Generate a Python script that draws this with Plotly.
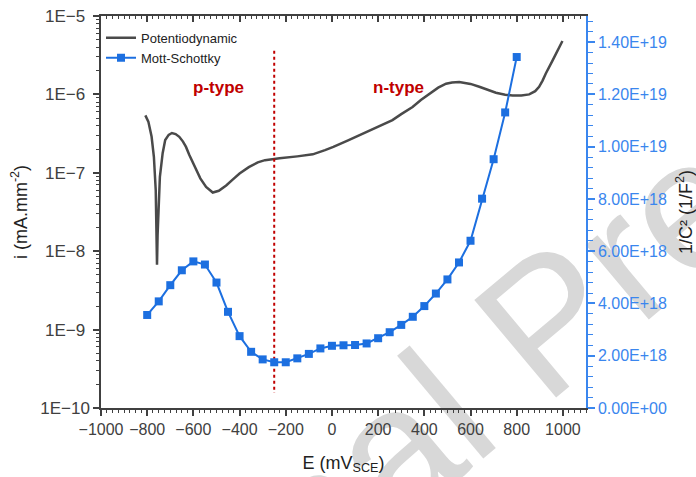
import plotly.graph_objects as go

# ---------------- data ----------------
# Potentiodynamic polarisation curve (E in mV_SCE, i in mA/mm^2)
pd_E = [-808, -795, -781, -771, -763, -759, -757.5, -755, -752, -745, -733, -722,
        -707, -693, -677, -661, -645, -632, -618, -600, -585, -570, -545, -516,
        -490, -458, -430, -400, -360, -321, -290, -248, -227, -150, -83, -30, 6,
        70, 132, 200, 262, 300, 349, 385, 421, 460, 494, 520, 551, 600, 638, 675,
        710, 750, 782, 820, 854, 880, 897, 912, 926, 955, 980, 998]
pd_i = [5.4e-7, 4.5e-7, 2.9e-7, 1.6e-7, 6.0e-8, 1.9e-8, 6.7e-9, 1.6e-8, 3.0e-8,
        8.9e-8, 1.78e-7, 2.62e-7, 3.05e-7, 3.22e-7, 3.12e-7, 2.88e-7, 2.5e-7,
        2.14e-7, 1.7e-7, 1.3e-7, 1.05e-7, 8.5e-8, 6.6e-8, 5.6e-8, 5.9e-8, 6.9e-8,
        8.2e-8, 9.8e-8, 1.18e-7, 1.36e-7, 1.45e-7, 1.52e-7, 1.53e-7, 1.62e-7,
        1.72e-7, 1.95e-7, 2.14e-7, 2.6e-7, 3.16e-7, 3.85e-7, 4.7e-7, 5.6e-7,
        6.9e-7, 8.5e-7, 1.02e-6, 1.22e-6, 1.37e-6, 1.42e-6, 1.44e-6, 1.36e-6,
        1.25e-6, 1.14e-6, 1.05e-6, 0.99e-6, 0.97e-6, 0.97e-6, 1.0e-6, 1.1e-6,
        1.25e-6, 1.5e-6, 1.85e-6, 2.7e-6, 3.7e-6, 4.8e-6]

# Mott-Schottky (E in mV_SCE, 1/C^2 in 1/F^2)
ms_E = [-800, -750, -700, -650, -600, -550, -500, -450, -400, -350, -300, -250,
        -200, -150, -100, -50, 0, 50, 100, 150, 200, 250, 300, 350, 400, 450,
        500, 550, 600, 650, 700, 750, 800]
ms_val = [3.56e18, 4.08e18, 4.70e18, 5.27e18, 5.61e18, 5.49e18, 4.80e18, 3.68e18,
          2.75e18, 2.15e18, 1.86e18, 1.75e18, 1.75e18, 1.90e18, 2.07e18, 2.28e18,
          2.38e18, 2.40e18, 2.41e18, 2.47e18, 2.67e18, 2.90e18, 3.18e18, 3.49e18,
          3.90e18, 4.38e18, 4.92e18, 5.57e18, 6.40e18, 8.01e18, 9.52e18,
          1.131e19, 1.343e19]

# flat-band / transition marker
trans_E = [-250, -250]
trans_i = [3.6e-6, 1.55e-10]

# tick labels
left_tickvals = [1e-10, 1e-9, 1e-8, 1e-7, 1e-6, 1e-5]
left_ticktext = ["1E\u221210", "1E\u22129\u2008", "1E\u22128\u2008", "1E\u22127\u2008",
                 "1E\u22126\u2008", "1E\u22125\u2008"]
right_tickvals = [0, 2e18, 4e18, 6e18, 8e18, 1e19, 1.2e19, 1.4e19]
right_ticktext = ["0.00E+00", "2.00E+18", "4.00E+18", "6.00E+18", "8.00E+18",
                  "1.00E+19", "1.20E+19", "1.40E+19"]
left_minor = [k * 10.0 ** n for n in range(-10, -5) for k in range(2, 10)]

# ---------------- styles ----------------
FONT = "Arial, 'Liberation Sans', sans-serif"
DARK = "#404040"
BLUE_LINE = "#1c6fe0"
BLUE_TXT = "#3a86ee"
RED = "#c00000"

fig = go.Figure()

fig.add_trace(go.Scatter(x=pd_E, y=pd_i, mode="lines", name="Potentiodynamic",
                         line=dict(color="#4a4a4a", width=2.5),
                         xaxis="x", yaxis="y"))
fig.add_trace(go.Scatter(x=ms_E, y=ms_val, mode="lines+markers", name="Mott-Schottky",
                         line=dict(color=BLUE_LINE, width=2),
                         marker=dict(symbol="square", size=8, color=BLUE_LINE),
                         xaxis="x", yaxis="y2"))
fig.add_trace(go.Scatter(x=trans_E, y=trans_i, mode="lines", showlegend=False,
                         line=dict(color=RED, width=2, dash="dot"),
                         xaxis="x", yaxis="y", hoverinfo="skip"))
# dummy trace to activate top mirror axis
fig.add_trace(go.Scatter(x=[None], y=[None], xaxis="x2", yaxis="y",
                         showlegend=False, hoverinfo="skip"))

fig.update_layout(
    template="none",
    width=696, height=477,
    margin=dict(l=101, r=110, t=16, b=69, autoexpand=False),
    paper_bgcolor="white", plot_bgcolor="rgba(0,0,0,0)",
    font=dict(family=FONT, size=16, color=DARK),
    xaxis=dict(range=[-1000, 1100], tickmode="linear", tick0=0, dtick=200,
               automargin=False,
               ticks="outside", ticklen=6, tickwidth=1.5, tickcolor=DARK,
               showline=True, linecolor=DARK, linewidth=1.5,
               showgrid=False, zeroline=False,
               minor=dict(tick0=0, dtick=25, ticks="outside", ticklen=3,
                          tickwidth=1.2, tickcolor=DARK, showgrid=False),
               tickfont=dict(size=16, color=DARK),
               title=dict(text="E (mV<sub>SCE</sub>)", font=dict(size=18, color="#222"),
                          standoff=19)),
    xaxis2=dict(range=[-1000, 1100], overlaying="x", side="top", automargin=False,
                tickmode="linear", tick0=0, dtick=200,
                ticks="inside", ticklen=6, tickwidth=1.5, tickcolor=DARK,
                showline=True, linecolor=DARK, linewidth=1.5,
                showticklabels=False, showgrid=False, zeroline=False,
                minor=dict(tick0=0, dtick=25, ticks="inside", ticklen=3,
                           tickwidth=1.2, tickcolor=DARK, showgrid=False)),
    yaxis=dict(type="log", range=[-10, -5], tickmode="array", automargin=False,
               tickvals=left_tickvals, ticktext=left_ticktext,
               ticks="outside", ticklen=6, tickwidth=1.5, tickcolor=DARK,
               showline=True, linecolor=DARK, linewidth=1.5,
               showgrid=False, zeroline=False,
               minor=dict(tickmode="array", tickvals=left_minor, ticks="outside",
                          ticklen=3, tickwidth=1.2, tickcolor=DARK, showgrid=False),
               tickfont=dict(size=17, color=DARK),
               title=dict(text="i (mA.mm<sup>-2</sup>)", font=dict(size=18, color="#222"),
                          standoff=8)),
    yaxis2=dict(range=[0, 1.5e19], overlaying="y", side="right", tickmode="array",
                automargin=False,
                tickvals=right_tickvals, ticktext=right_ticktext,
                ticks="outside", ticklen=7, tickwidth=1.5, tickcolor=BLUE_TXT,
                showline=True, linecolor=BLUE_TXT, linewidth=1.5,
                showgrid=False, zeroline=False,
                minor=dict(tick0=0, dtick=4e17, ticks="outside", ticklen=5,
                           tickwidth=1.2, tickcolor=BLUE_TXT, showgrid=False),
                tickfont=dict(size=16, color=BLUE_TXT),
                title=dict(text="1/C\u00b2 (1/F<sup>2</sup>)", font=dict(size=18, color="#222"),
                           standoff=16)),
    legend=dict(x=0.0, y=0.9825, xanchor="left", yanchor="top",
                bgcolor="rgba(0,0,0,0)", font=dict(size=13, color="#222"),
                itemwidth=30, tracegroupgap=0),
    showlegend=True,
)

fig.add_annotation(x=-491, y=0.818, xref="x", yref="paper", text="<b>p-type</b>",
                   xanchor="center", yanchor="middle",
                   showarrow=False, font=dict(size=17, color=RED))
fig.add_annotation(x=290, y=0.818, xref="x", yref="paper", text="<b>n-type</b>",
                   xanchor="center", yanchor="middle",
                   showarrow=False, font=dict(size=17, color=RED))

# journal watermark (partly visible in the source figure), kept beneath the data
fig.add_shape(type="rect", xref="paper", yref="paper",
              x0=0.845, x1=0.945, y0=0.205, y1=0.305,
              line=dict(width=0), fillcolor="rgba(0,0,0,0)", layer="below",
              label=dict(text="Journal Pre-proof", textangle=-40,
                         textposition="middle center",
                         font=dict(size=185, color="#d8d8d8", family=FONT)))

fig.write_html("out.html", config={"displayModeBar": False},
               post_script="document.body.style.margin='0px';")
